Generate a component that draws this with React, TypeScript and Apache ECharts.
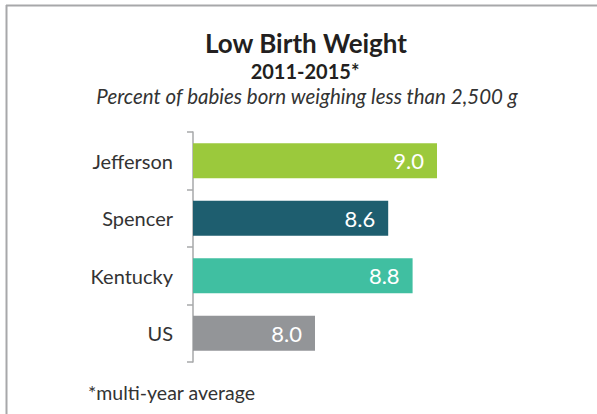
import React, { useEffect, useRef } from "react";
import * as echarts from "echarts";

const categories = ["Jefferson", "Spencer", "Kentucky", "US"];
const values = [9.0, 8.6, 8.8, 8.0];
const barColors = ["#9BC93C", "#1E5E6F", "#40BFA1", "#939598"];
const titleText = "Low Birth Weight";
const yearText = "2011-2015*";
const subtitleText = "Percent of babies born weighing less than 2,500 g";
const footnoteText = "*multi-year average";

export default function App() {
  const ref = useRef<HTMLDivElement>(null);
  useEffect(() => {
    if (!ref.current) return;
    const chart = echarts.init(ref.current, null, { renderer: "svg" });
    const font = "Lato, 'Noto Sans', sans-serif";
    chart.setOption({
      animation: false,
      backgroundColor: "#ffffff",
      grid: { left: 193, top: 132, width: 366, height: 230, containLabel: false },
      xAxis: {
        type: "value",
        min: 7,
        max: 10,
        show: false,
      },
      yAxis: {
        type: "category",
        data: categories,
        inverse: true,
        axisLine: { show: true, lineStyle: { color: "#a7a8aa", width: 1.5 } },
        axisTick: { show: true, length: 6, lineStyle: { color: "#a7a8aa", width: 1.5 } },
        axisLabel: { color: "#333333", fontSize: 20, fontFamily: font, margin: 20 },
        splitLine: { show: false },
      },
      series: [
        {
          type: "bar",
          barWidth: 35,
          data: values.map((v, i) => ({ value: v, itemStyle: { color: barColors[i] } })),
          label: {
            show: true,
            position: "insideRight",
            distance: 13,
            color: "#ffffff",
            fontSize: 22,
            fontFamily: font,
            formatter: (p: any) => Number(p.value).toFixed(1),
          },
        },
      ],
      graphic: [
        { type: "line", shape: { x1: 6, y1: 5.5, x2: 597, y2: 5.5 }, style: { stroke: "#a7a8aa", lineWidth: 2 } },
        { type: "line", shape: { x1: 6.5, y1: 5, x2: 6.5, y2: 414 }, style: { stroke: "#a7a8aa", lineWidth: 2 } },
        {
          type: "text",
          x: 306,
          y: 43,
          style: { text: titleText, fill: "#231f20", font: `bold 26px ${font}`, textAlign: "center", textVerticalAlign: "middle" },
        },
        {
          type: "text",
          x: 305,
          y: 71,
          style: { text: yearText, fill: "#231f20", font: `bold 20px ${font}`, textAlign: "center", textVerticalAlign: "middle" },
        },
        {
          type: "text",
          x: 307,
          y: 96,
          style: { text: subtitleText, fill: "#333333", font: `italic 20.5px ${font}`, textAlign: "center", textVerticalAlign: "middle" },
        },
        {
          type: "text",
          x: 88,
          y: 392,
          style: { text: footnoteText, fill: "#333333", font: `19.5px ${font}`, textAlign: "left", textVerticalAlign: "middle" },
        },
      ],
    });
    return () => chart.dispose();
  }, []);
  return <div ref={ref} style={{ position: "fixed", left: 0, top: 0, width: 597, height: 414 }} />;
}
